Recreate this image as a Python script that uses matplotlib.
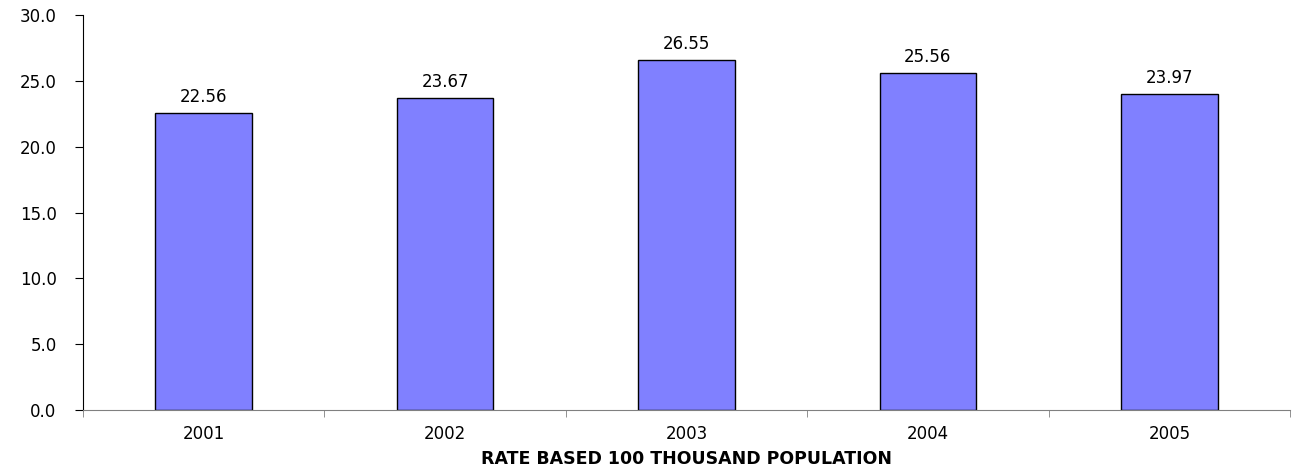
import matplotlib.pyplot as plt
import numpy as np

years = ['2001', '2002', '2003', '2004', '2005']
rates = [22.56, 23.67, 26.55, 25.56, 23.97]

plt.rcParams['font.family'] = ['DejaVu Sans']

fig = plt.figure(figsize=(12.92, 4.70), dpi=100)
ax = fig.add_axes([0.0642, 0.1277, 0.9343, 0.8403])

x = np.arange(len(years))
ax.bar(x, rates, width=0.4, color='#8080FF', edgecolor='black', linewidth=1)
for xi, v in zip(x, rates):
    ax.text(xi, v + 0.55, f'{v:.2f}', ha='center', va='bottom', fontsize=12)

ax.set_xlim(-0.5, len(years) - 0.5)
ax.set_ylim(0, 30)
yt = np.arange(0, 30.1, 5)
ax.set_yticks(yt)
ax.set_yticklabels([f'{t:.1f}' for t in yt], fontsize=12)
ax.set_xticks(x)
ax.set_xticklabels(years, fontsize=12)
ax.set_xticks(np.arange(-0.5, len(years)), minor=True)
ax.tick_params(axis='x', which='major', length=0, pad=11)
ax.tick_params(axis='x', which='minor', length=5, direction='out', color='#808080')
ax.tick_params(axis='y', length=6, direction='out', pad=13)

for s in ['top', 'right']:
    ax.spines[s].set_visible(False)
ax.spines['left'].set_color('black')
ax.spines['bottom'].set_color('#808080')

ax.set_xlabel('RATE BASED 100 THOUSAND POPULATION', fontsize=12.5, fontweight='bold', labelpad=5)

fig.savefig('out.png', dpi=100)
